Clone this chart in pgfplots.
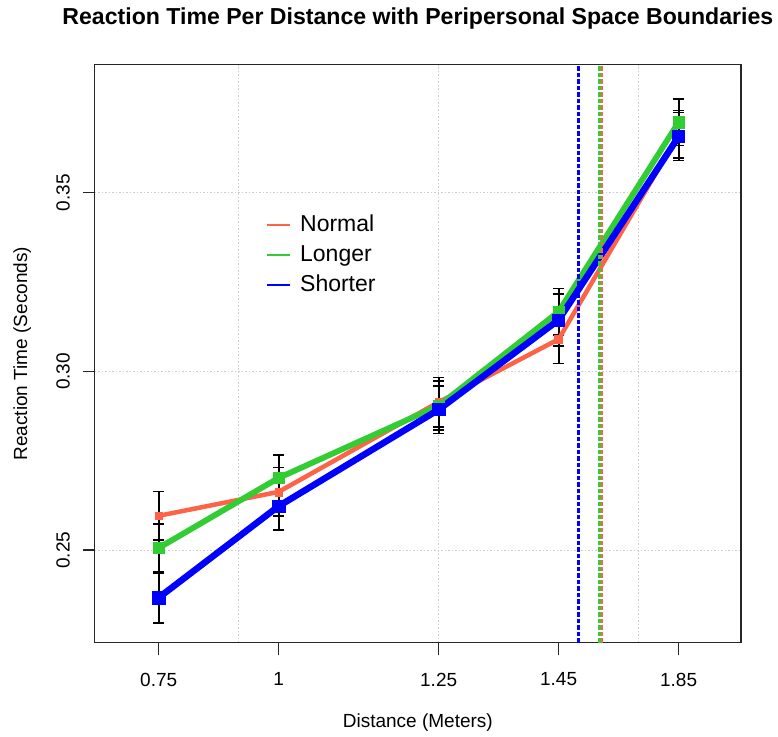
\documentclass[border=0pt]{standalone}
\usepackage{pgfplots}
\pgfplotsset{compat=1.18}
\usepackage{pgfplotstable}
\usepackage{fontspec}
\setmainfont{Liberation Sans}
\definecolor{tomatoc}{RGB}{255,99,71}
\definecolor{limec}{RGB}{50,205,50}
\definecolor{bluec}{RGB}{0,0,255}
\definecolor{gridc}{RGB}{205,205,205}

% x: plotting position (0.75,1,1.25,1.45,1.85 -> 3,6,10,13,16)
\pgfplotstableread{
x y e
3 0.2596 0.0068
6 0.2663 0.0068
10 0.2914 0.0069
13 0.3090 0.0068
16 0.3663 0.0067
}\normaltab
\pgfplotstableread{
x y e
3 0.2506 0.0066
6 0.2702 0.0065
10 0.2904 0.0069
13 0.3167 0.0065
16 0.3697 0.0065
}\longertab
\pgfplotstableread{
x y e
3 0.2367 0.0070
6 0.2623 0.0067
10 0.2893 0.0067
13 0.3144 0.0072
16 0.3657 0.0067
}\shortertab

\pgfplotsset{errplot/.style={forget plot, black, line width=1.8pt, mark=none,
  error bars/.cd, y dir=both, y explicit, error mark=|,
  error bar style={black, line width=1.8pt, solid},
  error mark options={black, line width=1.8pt, mark size=5.5pt}}}

\begin{document}
\begin{tikzpicture}
\useasboundingbox (0pt,0pt) rectangle (778pt,736pt);
\begin{axis}[
  at={(94.7pt,93.3pt)}, anchor=south west,
  scale only axis, width=646.3pt, height=578pt,
  xmin=1.4, xmax=17.56, ymin=0.2241, ymax=0.3858,
  axis line style={black!85, line width=1.4pt},
  tick style={black!85, line width=1.4pt},
  tick align=outside, tick pos=left,
  major tick length=12pt,
  minor tick length=0pt,
  xtick={3,6,10,13,16}, xticklabels={0.75,1,1.25,1.45,1.85},
  minor xtick={5,10,15},
  ytick={0.25,0.30,0.35},
  yticklabel style={/pgf/number format/fixed, /pgf/number format/fixed zerofill, /pgf/number format/precision=2},
  /pgf/number format/assume math mode=true,
  tick label style={font=\fontsize{19}{22}\selectfont, inner sep=0pt},
  xticklabel style={anchor=north},
  yticklabel style={rotate=90, anchor=south},
  xticklabel shift=18pt,
  yticklabel shift=12.7pt,
  ymajorgrids, xminorgrids,
  major grid style={gridc, line width=1pt, dash pattern=on 1.5pt off 2pt},
  minor grid style={gridc, line width=1pt, dash pattern=on 1.5pt off 2pt},
  title={Reaction Time Per Distance with Peripersonal Space Boundaries},
  title style={font=\fontsize{23.1}{27}\selectfont\bfseries, at={(axis description cs:0.5,1)}, anchor=base, yshift=34pt, inner sep=0pt},
  xlabel={Distance (Meters)},
  xlabel style={font=\fontsize{19}{22}\selectfont, at={(axis description cs:0.5,0)}, anchor=base, yshift=-84.3pt, inner sep=0pt},
  ylabel={Reaction Time (Seconds)},
  ylabel style={font=\fontsize{19}{22}\selectfont, at={(axis description cs:-0.1047,0.5)}, anchor=base, inner sep=0pt},
  legend image code/.code={\draw[#1] (0pt,0pt) -- (23pt,0pt);},
  legend style={draw=none, fill=none, at={(axis description cs:0.265,0.745)}, anchor=north west,
    font=\fontsize{23}{27}\selectfont, inner sep=0pt, row sep=4pt,
    nodes={inner sep=2pt, text height=17pt, text depth=5pt},
    /tikz/every odd column/.append style={column sep=7pt}},
  legend cell align=left,
]
\addlegendimage{tomatoc, line width=2pt}
\addlegendentry{Normal}
\addlegendimage{limec, line width=2pt}
\addlegendentry{Longer}
\addlegendimage{bluec, line width=2pt}
\addlegendentry{Shorter}

% error bars (under the lines)
\addplot[errplot] table[x=x, y=y, y error=e] {\normaltab};
\addplot[errplot] table[x=x, y=y, y error=e] {\longertab};
\addplot[errplot] table[x=x, y=y, y error=e] {\shortertab};

\addplot[forget plot, tomatoc, line width=4.5pt, mark=square*, mark size=3.9pt,
  mark options={line width=0.5pt, fill=tomatoc, draw=tomatoc}] table[x=x, y=y] {\normaltab};
\addplot[forget plot, limec, line width=5.8pt, mark=square*, mark size=5.6pt,
  mark options={line width=0.5pt, fill=limec, draw=limec}] table[x=x, y=y] {\longertab};
\addplot[forget plot, bluec, line width=6.5pt, mark=square*, mark size=6.1pt,
  mark options={line width=0.5pt, fill=bluec, draw=bluec}] table[x=x, y=y] {\shortertab};

% peripersonal space boundaries
\addplot[forget plot, bluec, line width=2.8pt, dash pattern=on 4.5pt off 2pt] coordinates {(13.49,0.2241) (13.49,0.3858)};
\addplot[forget plot, tomatoc, line width=2.8pt, dash pattern=on 4.5pt off 2pt] coordinates {(14.08,0.2241) (14.08,0.3858)};
\addplot[forget plot, limec, line width=2.8pt, dash pattern=on 4.5pt off 2pt] coordinates {(14.03,0.2241) (14.03,0.3858)};
\end{axis}
\end{tikzpicture}
\end{document}
